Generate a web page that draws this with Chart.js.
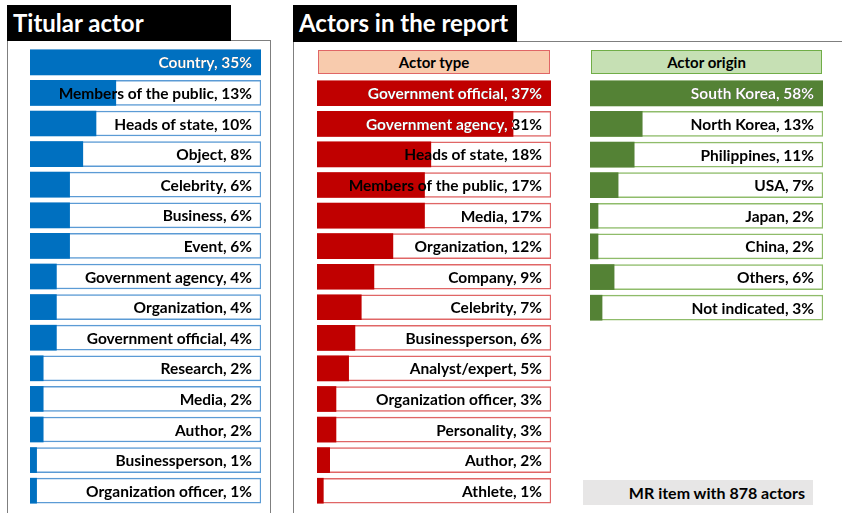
<!DOCTYPE html>
<html>
<head>
<meta charset="utf-8">
<script src="https://cdn.jsdelivr.net/npm/chart.js@4.4.0/dist/chart.umd.min.js"></script>
<style>
  body { margin: 0; width: 842px; height: 513px; background: #fff; position: relative; overflow: hidden; font-family: Lato, 'Open Sans', sans-serif; }
  .box { position: absolute; border: 1.5px solid #7f7f7f; box-sizing: border-box; }
  .title { position: absolute; background: #000; color: #fff; font-weight: 700; font-size: 24px; line-height: 36px; padding-left: 6px; box-sizing: border-box; white-space: nowrap; }
  .head { position: absolute; height: 24px; line-height: 22px; text-align: center; font-weight: 700; font-size: 15px; box-sizing: border-box; }
  .note { position: absolute; background: #e7e6e6; font-weight: 700; font-size: 16px; text-align: right; padding-right: 8px; line-height: 25px; box-sizing: border-box; white-space: nowrap; }
  canvas { position: absolute; }
</style>
</head>
<body>
<div class="box" style="left:7px;top:40px;width:264px;height:490px"></div>
<div class="title" style="left:7px;top:5px;width:224px;height:36px">Titular actor</div>

<div class="box" style="left:293px;top:41px;width:600px;height:490px"></div>
<div class="title" style="left:293px;top:5px;width:224px;height:37px">Actors in the report</div>

<div class="head" style="left:318px;top:50px;width:232px;background:#f8cbad;border:1.5px solid #e06666">Actor type</div>
<div class="head" style="left:591px;top:50px;width:231px;background:#c6e0b4;border:1.5px solid #70ad47">Actor origin</div>
<div class="note" style="left:583px;top:480px;width:230px;height:25px">MR item with 878 actors</div>

<canvas id="titular" width="231" height="459" style="left:30px;top:47px"></canvas>
<canvas id="actorType" width="234" height="428" style="left:317px;top:78px"></canvas>
<canvas id="actorOrigin" width="233" height="245" style="left:590px;top:78px"></canvas>

<script>
const titularLabels = ['Country', 'Members of the public', 'Heads of state', 'Object', 'Celebrity', 'Business', 'Event',
  'Government agency', 'Organization', 'Government official', 'Research', 'Media', 'Author', 'Businessperson', 'Organization officer']
const titularValues = [35, 13, 10, 8, 6, 6, 6, 4, 4, 4, 2, 2, 2, 1, 1]

const typeLabels = ['Government official', 'Government agency', 'Heads of state', 'Members of the public', 'Media', 'Organization',
  'Company', 'Celebrity', 'Businessperson', 'Analyst/expert', 'Organization officer', 'Personality', 'Author', 'Athlete']
const typeValues = [37, 31, 18, 17, 17, 12, 9, 7, 6, 5, 3, 3, 2, 1]

const originLabels = ['South Korea', 'North Korea', 'Philippines', 'USA', 'Japan', 'China', 'Others', 'Not indicated']
const originValues = [58, 13, 11, 7, 2, 2, 6, 3]

const FONT = 'bold 15.5px Lato, "Open Sans", sans-serif'

// writes "Label, n%" right-aligned in each box; white over the fill for the long bars
const barText = {
  id: 'barText',
  afterDatasetsDraw(chart) {
    const ctx = chart.ctx
    const labels = chart.data.labels
    const vals = chart.data.datasets[0].data
    const max = chart.options.scales.x.max
    const right = chart.chartArea.right - 9
    chart.getDatasetMeta(0).data.forEach((bar, i) => {
      const p = bar.getProps(['x', 'y', 'base', 'height'], true)
      const txt = labels[i] + ', ' + vals[i] + '%'
      ctx.save()
      ctx.font = FONT
      ctx.textAlign = 'right'
      ctx.textBaseline = 'middle'
      ctx.fillStyle = '#000'
      ctx.fillText(txt, right, p.y + 1)
      if (vals[i] / max > 0.75) {
        ctx.beginPath()
        ctx.rect(p.base, p.y - p.height / 2, p.x - p.base, p.height)
        ctx.clip()
        ctx.fillStyle = '#fff'
        ctx.fillText(txt, right, p.y + 1)
      }
      ctx.restore()
    })
  }
}

function makeChart(id, labels, values, fill, border) {
  const max = Math.max(...values)
  new Chart(document.getElementById(id).getContext('2d'), {
    type: 'bar',
    data: {
      labels: labels,
      datasets: [
        {
          data: values,
          backgroundColor: fill,
          borderWidth: 0,
          barThickness: 25,
          grouped: false,
          order: 0,
        },
        {
          data: labels.map(() => max),
          backgroundColor: '#fff',
          borderColor: border,
          borderWidth: 1.5,
          borderSkipped: false,
          barThickness: 25,
          grouped: false,
          order: 1,
        },
      ],
    },
    options: {
      indexAxis: 'y',
      responsive: false,
      animation: false,
      layout: { padding: 0 },
      plugins: { legend: { display: false }, tooltip: { enabled: false } },
      scales: {
        x: { display: false, min: 0, max: max },
        y: { display: false },
      },
    },
    plugins: [barText],
  })
}

makeChart('titular', titularLabels, titularValues, '#0070c0', '#5b9bd5')
makeChart('actorType', typeLabels, typeValues, '#c00000', '#e06666')
makeChart('actorOrigin', originLabels, originValues, '#548235', '#8fbc6a')
</script>
</body>
</html>
